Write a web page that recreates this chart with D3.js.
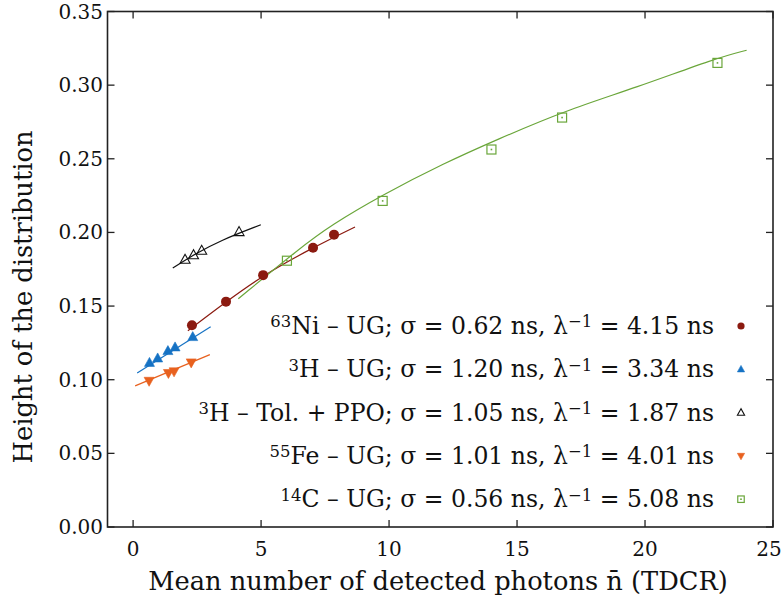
<!DOCTYPE html>
<html>
  <head>
    <style>
      html,
      body { margin: 0; background: #fff; }
      svg { display: block; }
      text { font-family: "DejaVu Serif", serif; fill: #111; }
    </style>
    <script src="https://d3js.org/d3.v7.js"></script>
  </head>
  <body>
    <svg class="chart"></svg>

    <script>
      const width = 784;
      const height = 601;

      // axes
      const xTicks = [0, 5, 10, 15, 20, 25];
      const yTicks = [0, 0.05, 0.10, 0.15, 0.20, 0.25, 0.30, 0.35];

      const niX = [2.30, 3.63, 5.08, 7.03, 7.85];
      const niY = [0.137, 0.153, 0.171, 0.1896, 0.1985];
      const h3X = [0.64, 0.96, 1.36, 1.64, 2.33];
      const h3Y = [0.1115, 0.1145, 0.1195, 0.122, 0.129];
      const tolX = [2.03, 2.36, 2.68, 4.14];
      const tolY = [0.1815, 0.1846, 0.1876, 0.2003];
      const feX = [0.625, 1.38, 1.60, 2.27];
      const feY = [0.0992, 0.1045, 0.1056, 0.1117];
      const cX = [6.01, 9.75, 14.0, 16.76, 22.83];
      const cY = [0.1808, 0.2214, 0.2563, 0.278, 0.3151];

      // fitted curves
      const niFitX = [2.14, 3.6, 5.1, 7.0, 8.67];
      const niFitY = [0.1332, 0.1525, 0.1712, 0.1895, 0.2037];
      const h3FitX = [0.16, 3.03];
      const h3FitY = [0.1045, 0.136];
      const tolFitX = [1.55, 2.4, 3.4, 4.99];
      const tolFitY = [0.1758, 0.1852, 0.1945, 0.2052];
      const feFitX = [0.08, 3.0];
      const feFitY = [0.0958, 0.117];
      const cFitX = [4.11, 6.52, 7.72, 9.75, 12.18, 14.21, 16.91, 19.62, 22.81, 23.97];
      const cFitY = [0.155, 0.1894, 0.2048, 0.2256, 0.2472, 0.263, 0.2829, 0.2981, 0.3185, 0.3237];

      const zip = (xs, ys) => xs.map((x, i) => [x, ys[i]]);

      const series = [
        { name: 'ni', color: '#8b1a10', shape: 'circle', pts: zip(niX, niY), fit: zip(niFitX, niFitY),
          label: [['63', 'sup'], ['Ni – UG; σ = 0.62 ns, λ'], ['−1', 'sup'], [' = 4.15 ns']] },
        { name: 'h3', color: '#1572c4', shape: 'up', pts: zip(h3X, h3Y), fit: zip(h3FitX, h3FitY),
          label: [['3', 'sup'], ['H – UG; σ = 1.20 ns, λ'], ['−1', 'sup'], [' = 3.34 ns']] },
        { name: 'tol', color: '#111', shape: 'upOpen', pts: zip(tolX, tolY), fit: zip(tolFitX, tolFitY),
          label: [['3', 'sup'], ['H – Tol. + PPO; σ = 1.05 ns, λ'], ['−1', 'sup'], [' = 1.87 ns']] },
        { name: 'fe', color: '#e8611f', shape: 'down', pts: zip(feX, feY), fit: zip(feFitX, feFitY),
          label: [['55', 'sup'], ['Fe – UG; σ = 1.01 ns, λ'], ['−1', 'sup'], [' = 4.01 ns']] },
        { name: 'c14', color: '#6aa63a', shape: 'square', pts: zip(cX, cY), fit: zip(cFitX, cFitY),
          label: [['14', 'sup'], ['C – UG; σ = 0.56 ns, λ'], ['−1', 'sup'], [' = 5.08 ns']] },
      ];

      const pLeft = 107.5, pRight = 773, pTop = 11.5, pBottom = 527;

      const x = d3.scaleLinear().domain([-1, 25]).range([pLeft, pRight]);
      const y = d3.scaleLinear().domain([0, 0.35]).range([pBottom, pTop]);

      const svg = d3.select('svg')
        .attr('width', width)
        .attr('height', height);

      // scale a text element's font size so it spans the wanted width
      const fitWidth = (sel, target, base) => {
        const w = sel.node().getComputedTextLength();
        const size = base * target / w;
        sel.style('font-size', `${size}px`);
        return size;
      };

      // fits first, markers above
      const line = d3.line()
        .x((d) => x(d[0]))
        .y((d) => y(d[1]))
        .curve(d3.curveBasis);

      svg.selectAll('path.fit')
        .data(series)
        .join('path')
        .attr('class', 'fit')
        .attr('d', (d) => line(d.fit))
        .attr('fill', 'none')
        .attr('stroke', (d) => d.color)
        .attr('stroke-width', 1.2);

      // draw one marker of a given shape and size at (cx, cy)
      const drawMarker = (g, s, cx, cy, k) => {
        const c = s.color;
        if (s.shape === 'circle') {
          g.append('circle').attr('cx', cx).attr('cy', cy).attr('r', 5 * k).attr('fill', c);
        } else if (s.shape === 'up' || s.shape === 'upOpen' || s.shape === 'down') {
          const h = 9 * k, w = 10 * k;
          const dir = s.shape === 'down' ? -1 : 1;
          const pts = [
            [cx, cy - dir * h * 0.6],
            [cx - w / 2, cy + dir * h * 0.4],
            [cx + w / 2, cy + dir * h * 0.4],
          ];
          g.append('path')
            .attr('d', 'M' + pts.join('L') + 'Z')
            .attr('fill', s.shape === 'upOpen' ? 'none' : c)
            .attr('stroke', c)
            .attr('stroke-width', s.shape === 'upOpen' ? 1.1 : 0.6);
        } else {
          const a = 9 * k;
          g.append('rect')
            .attr('x', cx - a / 2).attr('y', cy - a / 2)
            .attr('width', a).attr('height', a)
            .attr('fill', 'none').attr('stroke', c).attr('stroke-width', 1.2);
          g.append('rect')
            .attr('x', cx - 0.8).attr('y', cy - 0.8)
            .attr('width', 1.6).attr('height', 1.6)
            .attr('fill', c);
        }
      };

      const marks = svg.append('g');
      series.forEach((s) => {
        s.pts.forEach((p) => drawMarker(marks, s, x(p[0]), y(p[1]), 1));
      });

      // frame and ticks (all inward, mirrored)
      const axes = svg.append('g').attr('stroke', '#222').attr('stroke-width', 1.3);
      const tl = 7;
      xTicks.forEach((t) => {
        axes.append('line').attr('x1', x(t)).attr('x2', x(t)).attr('y1', pBottom).attr('y2', pBottom - tl);
        axes.append('line').attr('x1', x(t)).attr('x2', x(t)).attr('y1', pTop).attr('y2', pTop + tl);
      });
      yTicks.forEach((t) => {
        axes.append('line').attr('x1', pLeft).attr('x2', pLeft + tl).attr('y1', y(t)).attr('y2', y(t));
        axes.append('line').attr('x1', pRight).attr('x2', pRight - tl).attr('y1', y(t)).attr('y2', y(t));
      });
      axes.append('rect')
        .attr('x', pLeft).attr('y', pTop)
        .attr('width', pRight - pLeft).attr('height', pBottom - pTop)
        .attr('fill', 'none').attr('stroke-width', 1.6);

      const tickFs = 20;

      // the last label would run off the page, keep it inside
      svg.selectAll('text.xt')
        .data(xTicks)
        .join('text')
        .attr('class', 'xt')
        .attr('x', (d) => Math.min(x(d), width - 15))
        .attr('y', 556)
        .attr('text-anchor', 'middle')
        .style('font-size', `${tickFs}px`)
        .text((d) => d);

      svg.selectAll('text.yt')
        .data(yTicks)
        .join('text')
        .attr('class', 'yt')
        .attr('x', 103)
        .attr('y', (d) => y(d) + 7)
        .attr('text-anchor', 'end')
        .style('font-size', `${tickFs}px`)
        .text((d) => d.toFixed(2));

      const xTitle = svg.append('text')
        .attr('x', 438)
        .attr('y', 590)
        .attr('text-anchor', 'middle')
        .style('font-size', '20px')
        .text('Mean number of detected photons n\u0304 (TDCR)');
      const titleFs = fitWidth(xTitle, 580, 20);

      svg.append('text')
        .attr('transform', 'translate(32, 297) rotate(-90)')
        .attr('text-anchor', 'middle')
        .style('font-size', `${titleFs}px`)
        .text('Height of the distribution');

      // legend
      const legend = svg.append('g');
      const legendTexts = [];
      series.forEach((s, i) => {
        const ly = 326 + i * 43.3;
        const t = legend.append('text')
          .attr('x', 714)
          .attr('y', ly + 8)
          .attr('text-anchor', 'end')
          .style('font-size', '20px');
        s.label.forEach(([str, kind], j) => {
          const prevSup = j > 0 && s.label[j - 1][1] === 'sup';
          const span = t.append('tspan').text(str);
          if (kind === 'sup') {
            span.attr('dy', '-0.4em').attr('class', 'sup').style('font-size', '0.7em');
          } else if (prevSup) {
            span.attr('dy', '0.28em');
          }
        });
        legendTexts.push(t);
        drawMarker(legend, s, 741, ly, 0.72);
      });
      const legendFs = fitWidth(legendTexts[0], 444, 20);
      legendTexts.forEach((t) => t.style('font-size', `${legendFs}px`));
    </script>
  </body>
</html>
